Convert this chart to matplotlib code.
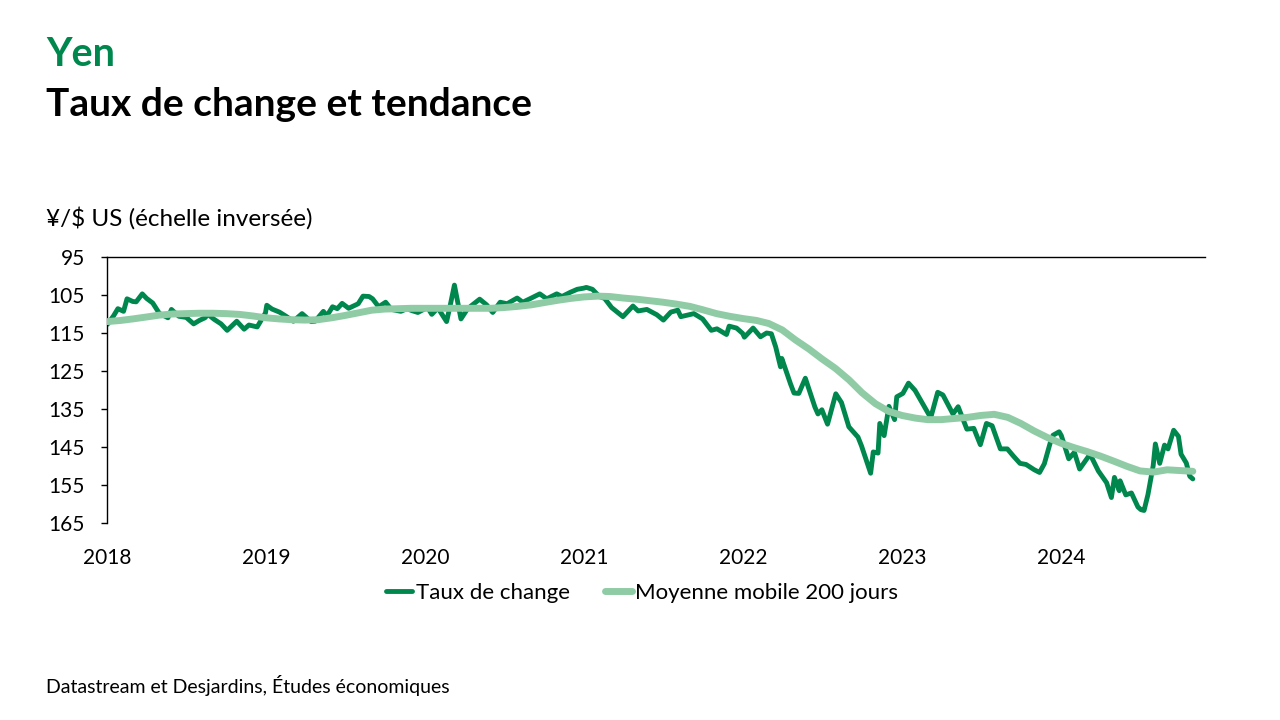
import pandas as pd
import matplotlib
matplotlib.use("Agg")
import matplotlib.pyplot as plt

plt.rcParams['font.family'] = ['Lato', 'DejaVu Sans']

# --- données (¥ par $ US) ---
rate_dates = [
    "2018-01-02", "2018-01-16", "2018-01-26", "2018-02-08", "2018-02-16", "2018-03-01", "2018-03-09",
    "2018-03-23", "2018-04-02", "2018-04-16", "2018-05-01", "2018-05-21", "2018-05-29", "2018-06-15",
    "2018-07-02", "2018-07-19", "2018-08-01", "2018-08-14", "2018-08-21", "2018-09-04", "2018-09-20",
    "2018-10-04", "2018-10-26", "2018-11-12", "2018-11-23", "2018-12-12", "2018-12-31",
    "2019-01-03", "2019-01-15", "2019-02-01", "2019-02-15", "2019-03-05", "2019-03-25", "2019-04-15",
    "2019-04-24", "2019-05-13", "2019-05-21", "2019-06-03", "2019-06-14", "2019-06-25", "2019-07-10",
    "2019-08-01", "2019-08-12", "2019-08-26", "2019-09-03", "2019-09-17", "2019-10-03", "2019-10-16",
    "2019-11-07", "2019-11-21", "2019-12-02", "2019-12-16", "2019-12-31",
    "2020-01-08", "2020-01-17", "2020-01-31", "2020-02-20", "2020-02-28", "2020-03-09", "2020-03-24",
    "2020-04-06", "2020-04-16", "2020-05-06", "2020-05-22", "2020-06-05", "2020-06-22", "2020-07-08",
    "2020-07-31", "2020-08-13", "2020-08-31", "2020-09-21", "2020-10-07", "2020-10-30", "2020-11-11",
    "2020-11-30", "2020-12-16", "2020-12-31",
    "2021-01-06", "2021-01-20", "2021-02-05", "2021-02-17", "2021-03-05", "2021-03-31", "2021-04-23",
    "2021-05-05", "2021-05-25", "2021-06-17", "2021-07-02", "2021-07-19", "2021-08-04", "2021-08-11",
    "2021-09-10", "2021-09-30", "2021-10-20", "2021-11-02", "2021-11-24", "2021-11-30", "2021-12-17",
    "2021-12-31",
    "2022-01-04", "2022-01-24", "2022-02-10", "2022-02-24", "2022-03-07", "2022-03-17", "2022-03-28",
    "2022-03-31", "2022-04-20", "2022-04-28", "2022-05-09", "2022-05-24", "2022-06-15", "2022-06-22",
    "2022-07-01", "2022-07-14", "2022-08-02", "2022-08-15", "2022-09-01", "2022-09-22", "2022-09-30",
    "2022-10-21", "2022-10-27", "2022-11-07", "2022-11-11", "2022-11-21", "2022-12-02", "2022-12-15",
    "2022-12-20",
    "2023-01-03", "2023-01-16", "2023-01-31", "2023-02-14", "2023-03-08", "2023-03-24", "2023-04-05",
    "2023-04-28", "2023-05-10", "2023-05-30", "2023-06-15", "2023-06-30", "2023-07-14", "2023-07-27",
    "2023-08-15", "2023-08-31", "2023-09-14", "2023-09-29", "2023-10-13", "2023-11-01", "2023-11-13",
    "2023-11-24", "2023-12-07", "2023-12-14", "2023-12-28",
    "2024-01-02", "2024-01-19", "2024-02-01", "2024-02-13", "2024-03-08", "2024-03-27", "2024-04-15",
    "2024-04-26", "2024-05-03", "2024-05-14", "2024-05-16", "2024-05-29", "2024-06-11", "2024-06-26",
    "2024-07-03", "2024-07-10", "2024-07-19", "2024-07-31", "2024-08-05", "2024-08-15", "2024-08-26",
    "2024-09-03", "2024-09-16", "2024-09-27", "2024-10-03", "2024-10-15", "2024-10-23", "2024-10-30",
]
rate_vals = [
    112.7, 110.5, 108.6, 109.3, 106.0, 106.7, 106.8,
    104.7, 105.9, 107.1, 109.8, 111.0, 108.8, 110.6,
    110.9, 112.6, 111.7, 111.0, 110.1, 111.4, 112.6,
    114.3, 111.9, 114.0, 112.9, 113.4, 109.7,
    107.7, 108.7, 109.5, 110.5, 111.9, 109.9, 112.0,
    111.9, 109.3, 110.5, 108.1, 108.6, 107.2, 108.5,
    107.3, 105.3, 105.4, 106.0, 108.1, 106.9, 108.8,
    109.3, 108.6, 109.1, 109.6, 108.7,
    108.4, 110.1, 108.4, 112.0, 107.9, 102.4, 111.3,
    109.0, 107.9, 106.1, 107.6, 109.6, 106.9, 107.3,
    105.8, 106.9, 105.9, 104.7, 106.0, 104.7, 105.4,
    104.3, 103.5, 103.2,
    103.0, 103.5, 105.4, 105.9, 108.3, 110.7, 107.9,
    109.2, 108.8, 110.2, 111.6, 109.5, 109.0, 110.7,
    109.9, 111.3, 114.3, 113.9, 115.4, 113.2, 113.7,
    115.1,
    116.1, 113.7, 116.0, 115.0, 115.2, 118.7, 123.9,
    121.7, 128.4, 130.8, 130.9, 126.9, 134.5, 136.3,
    135.2, 139.0, 131.0, 133.3, 139.7, 142.4, 144.7,
    151.9, 146.3, 146.6, 138.8, 142.0, 134.3, 137.8,
    131.8,
    130.9, 128.2, 130.1, 132.9, 137.3, 130.6, 131.3,
    136.3, 134.4, 140.3, 140.1, 144.4, 138.8, 139.4,
    145.5, 145.5, 147.4, 149.3, 149.6, 151.0, 151.7,
    149.4, 144.1, 141.9, 141.0,
    142.0, 148.1, 146.4, 150.8, 146.9, 151.3, 154.4,
    158.3, 153.0, 156.5, 153.9, 157.6, 157.1, 160.8,
    161.5, 161.7, 157.5, 149.9, 144.2, 149.3, 144.5,
    145.5, 140.6, 142.2, 146.9, 149.2, 152.7, 153.4,
]

# moyenne mobile 200 jours, un point par début de mois
ma_vals = [
    112.0, 111.7, 111.3, 110.8, 110.3, 110.0, 109.9, 109.8, 109.8, 109.9, 110.1, 110.5,
    111.0, 111.3, 111.5, 111.6, 111.5, 111.0, 110.4, 109.7, 109.0, 108.7, 108.6, 108.5,
    108.5, 108.5, 108.5, 108.5, 108.5, 108.5, 108.3, 108.0, 107.6, 107.0, 106.4, 105.9,
    105.5, 105.3, 105.4, 105.8, 106.1, 106.5, 106.9, 107.4, 108.0, 108.9, 109.9, 110.6,
    111.2, 111.7, 112.5, 114.2, 116.8, 119.2, 121.8, 124.3, 127.3, 130.7, 133.6, 135.6,
    136.7, 137.4, 137.8, 137.8, 137.5, 137.2, 136.7, 136.4, 137.2, 138.8, 140.8, 142.5,
    144.0, 145.2, 146.2, 147.4, 148.7, 150.1, 151.3, 151.6, 151.0, 151.2, 151.4,
]
ma_dates = list(pd.date_range("2018-01-01", "2024-10-01", freq="MS")) + [pd.Timestamp("2024-10-30")]

years = [2018, 2019, 2020, 2021, 2022, 2023, 2024]
y_ticks = [95, 105, 115, 125, 135, 145, 155, 165]

color_rate = '#00874D'
color_ma = '#8FCCA6'

fig = plt.figure(figsize=(12.8, 7.2), dpi=100)
ax = fig.add_axes([107 / 1280, 1 - 523 / 720, (1205 - 107) / 1280, (523 - 257) / 720])

ax.plot(pd.to_datetime(rate_dates), rate_vals, color=color_rate, lw=3.5,
        solid_joinstyle='round', solid_capstyle='round', label='Taux de change', zorder=2)
ax.plot(ma_dates, ma_vals, color=color_ma, lw=5.0,
        solid_joinstyle='round', solid_capstyle='round', label='Moyenne mobile 200 jours', zorder=3)

# échelle inversée
ax.set_ylim(165, 95)
ax.set_yticks(y_ticks)
ax.set_xlim(pd.Timestamp("2018-01-01"), pd.Timestamp("2024-11-27"))
ax.set_xticks([pd.Timestamp(f"{y}-01-01") for y in years])
ax.set_xticklabels([str(y) for y in years])

for side in ['right', 'bottom']:
    ax.spines[side].set_visible(False)
for side in ['top', 'left']:
    ax.spines[side].set_color('black')
    ax.spines[side].set_linewidth(1.0)

ax.tick_params(axis='y', direction='out', length=4, width=1, labelsize=15, pad=12)
ax.tick_params(axis='x', length=0, labelsize=15, pad=18)

# titres
fig.text(46 / 1280, 1 - 55 / 720, 'Yen', color=color_rate, fontsize=28.5, fontweight='bold', va='center')
fig.text(46 / 1280, 1 - 104 / 720, 'Taux de change et tendance', color='black', fontsize=28,
         fontweight='bold', va='center')
fig.text(46 / 1280, 1 - 218 / 720, '¥/$ US (échelle inversée)', color='black', fontsize=17.5, va='center')
fig.text(46 / 1280, 1 - 685 / 720, 'Datastream et Desjardins, Études économiques', color='black',
         fontsize=14, va='center')

fig.legend(loc='center', bbox_to_anchor=(642 / 1280, 1 - 593 / 720), ncol=2, frameon=False,
           fontsize=16, handlelength=1.2, handletextpad=0.15, columnspacing=1.6)

fig.savefig('out.png', dpi=100)
